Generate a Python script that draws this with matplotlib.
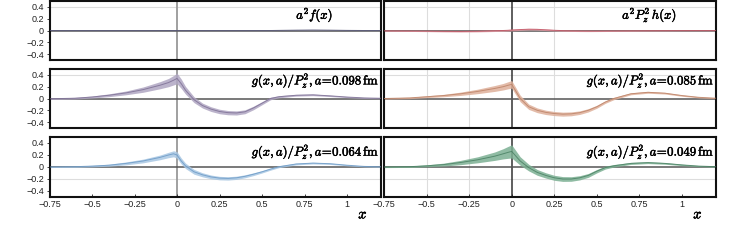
import numpy as np
import matplotlib
matplotlib.use("Agg")
import matplotlib.pyplot as plt
import matplotlib.patheffects as pe

plt.rcParams['mathtext.fontset'] = 'cm'
plt.rcParams['font.family'] = ['Liberation Sans', 'DejaVu Sans']

# shared x grid
x = [-0.75, -0.6, -0.5, -0.4, -0.3, -0.2, -0.1, -0.05, -0.02, 0.0, 0.025, 0.05, 0.1, 0.15,
     0.2, 0.25, 0.3, 0.35, 0.4, 0.45, 0.5, 0.55, 0.6, 0.7, 0.8, 0.9, 1.0, 1.1, 1.2]

# a^2 f(x)
f_val = [0, 0, 0, 0, 0, 0, 0, 0, 0, 0, 0, 0, 0, 0,
         0, 0, 0, 0, 0, 0, 0, 0, 0.002, 0.006, 0.009, 0.006, 0.002, 0, 0]
f_err = [0.003] * len(x)

# a^2 P_z^2 h(x)
h_val = [-0.005, -0.008, -0.01, -0.014, -0.016, -0.012, -0.004, 0.0, 0.004, 0.008, 0.012, 0.016,
         0.022, 0.02, 0.012, 0.004, -0.002, -0.006, -0.008, -0.009, -0.009, -0.008, -0.007, -0.005,
         -0.003, -0.002, -0.001, 0, 0]
h_err = [0.008, 0.008, 0.009, 0.01, 0.011, 0.012, 0.013, 0.014, 0.014, 0.014, 0.014, 0.014,
         0.014, 0.014, 0.013, 0.012, 0.011, 0.01, 0.01, 0.01, 0.009, 0.009, 0.008, 0.008,
         0.007, 0.007, 0.006, 0.006, 0.006]

# g(x,a)/P_z^2 for four lattice spacings
g098 = [-0.005, 0.005, 0.025, 0.055, 0.095, 0.15, 0.225, 0.27, 0.31, 0.34, 0.25, 0.14, -0.02, -0.12,
        -0.18, -0.22, -0.24, -0.245, -0.225, -0.16, -0.08, 0.0, 0.03, 0.055, 0.062, 0.045, 0.025, 0.01, 0.004]
e098 = [0.012, 0.014, 0.017, 0.024, 0.032, 0.045, 0.06, 0.07, 0.08, 0.09, 0.08, 0.065, 0.05, 0.042,
        0.04, 0.038, 0.036, 0.035, 0.033, 0.03, 0.026, 0.022, 0.018, 0.015, 0.014, 0.012, 0.01, 0.009, 0.008]

g085 = [0.0, 0.01, 0.03, 0.05, 0.08, 0.12, 0.17, 0.2, 0.225, 0.24, 0.12, 0.0, -0.14, -0.2,
        -0.235, -0.255, -0.265, -0.26, -0.24, -0.2, -0.14, -0.06, 0.0, 0.08, 0.105, 0.09, 0.05, 0.02, 0.005]
e085 = [0.01, 0.012, 0.015, 0.02, 0.028, 0.038, 0.05, 0.055, 0.06, 0.065, 0.06, 0.055, 0.045, 0.04,
        0.037, 0.035, 0.034, 0.033, 0.03, 0.028, 0.025, 0.022, 0.02, 0.017, 0.016, 0.014, 0.012, 0.01, 0.008]

g064 = [0.0, 0.005, 0.015, 0.03, 0.06, 0.1, 0.16, 0.2, 0.22, 0.2, 0.1, 0.02, -0.08, -0.13,
        -0.165, -0.185, -0.19, -0.18, -0.155, -0.12, -0.08, -0.035, 0.005, 0.05, 0.065, 0.055, 0.03, 0.01, 0.003]
e064 = [0.009, 0.011, 0.013, 0.017, 0.024, 0.031, 0.039, 0.045, 0.05, 0.055, 0.05, 0.045, 0.04, 0.034,
        0.031, 0.029, 0.028, 0.027, 0.025, 0.023, 0.02, 0.018, 0.016, 0.015, 0.014, 0.012, 0.01, 0.008, 0.007]

g049 = [0.0, 0.005, 0.02, 0.04, 0.075, 0.12, 0.18, 0.22, 0.245, 0.26, 0.18, 0.1, -0.01, -0.09,
        -0.14, -0.18, -0.2, -0.2, -0.18, -0.14, -0.07, -0.01, 0.02, 0.06, 0.073, 0.06, 0.035, 0.015, 0.005]
e049 = [0.01, 0.012, 0.016, 0.024, 0.036, 0.05, 0.07, 0.085, 0.1, 0.11, 0.09, 0.07, 0.055, 0.048,
        0.044, 0.042, 0.04, 0.038, 0.035, 0.032, 0.028, 0.024, 0.021, 0.017, 0.016, 0.014, 0.012, 0.009, 0.008]

panels = [
    (f_val, f_err, '#9a9ab8', '#555577', r'$a^2 f(x)$', 0.80, 0.76),
    (h_val, h_err, '#e3a0a8', '#c05060', r'$a^2 P_z^2\, h(x)$', 0.80, 0.76),
    (g098, e098, '#b0a6c2', '#7a6c92', r'$g(x,a)/P_z^2, a\!=\!0.098\,\mathrm{fm}$', 0.995, 0.80),
    (g085, e085, '#deb09a', '#bb8064', r'$g(x,a)/P_z^2, a\!=\!0.085\,\mathrm{fm}$', 0.995, 0.80),
    (g064, e064, '#a8c7e3', '#6897c4', r'$g(x,a)/P_z^2, a\!=\!0.064\,\mathrm{fm}$', 0.995, 0.75),
    (g049, e049, '#7cb093', '#467e60', r'$g(x,a)/P_z^2, a\!=\!0.049\,\mathrm{fm}$', 0.995, 0.75),
]

W, H = 747, 246
fig = plt.figure(figsize=(W / 100, H / 100), dpi=100)
col_left = [49.5, 384]
col_w = [331.5, 332]
row_top = [1, 69, 137]
row_h = [59, 59, 60]
hgrid = [[0.4], [0.4], [-0.2]]
bold = [pe.withStroke(linewidth=0.35, foreground='black')]

xv = np.array(x)
for i, (val, err, band, line, label, tx, ty) in enumerate(panels):
    r, c = divmod(i, 2)
    ax = fig.add_axes([col_left[c] / W, 1 - (row_top[r] + row_h[r]) / H, col_w[c] / W, row_h[r] / H])
    v = np.array(val)
    e = np.array(err)
    for gy in hgrid[r]:
        ax.axhline(gy, color='#dddddd', lw=0.8, zorder=0)
    if c == 1:
        for gx in [-0.5, -0.25, 0.25]:
            ax.axvline(gx, color='#dddddd', lw=0.8, zorder=0)
        ax.axvline(0, color='#333333', lw=1.1, zorder=1)
    else:
        ax.axvline(0, color='#999999', lw=1.3, zorder=1)
    ax.axhline(0, color='#555555', lw=1.1, zorder=1)
    ax.fill_between(xv, v - e, v + e, color=band, alpha=0.85, lw=0, zorder=2)
    ax.plot(xv, v, color=line, lw=0.7, alpha=0.8, zorder=3)
    ax.text(tx, ty, label, transform=ax.transAxes, ha='right' if tx > 0.9 else 'center',
            va='center', fontsize=9.2, path_effects=bold)
    ax.set_xlim(-0.75, 1.2)
    ax.set_ylim(-0.5, 0.5)
    for s in ax.spines.values():
        s.set_linewidth(1.5)
        s.set_color('#111111')
    ax.tick_params(direction='in', length=2, width=0.6, labelsize=6.5, colors='#222222', pad=2)
    ax.set_xticks([-0.75, -0.5, -0.25, 0, 0.25, 0.5, 0.75, 1])
    ax.set_yticks([-0.4, -0.2, 0, 0.2, 0.4])
    ax.set_yticklabels(['\u22120.4', '\u22120.2', '0', '0.2', '0.4'])
    ax.tick_params(axis='y', direction='out')
    if c == 1:
        ax.tick_params(axis='y', length=0, labelleft=False)
    if r == 2:
        ax.set_xticklabels(['\u22120.75', '\u22120.5', '\u22120.25', '0', '0.25', '0.5', '0.75', '1'])
        ax.text(0.946, -0.29, r'$x$', transform=ax.transAxes, ha='center', va='center',
                fontsize=10.5, path_effects=bold)
    else:
        ax.tick_params(axis='x', labelbottom=False, length=0)

fig.savefig('out.png', dpi=100)
